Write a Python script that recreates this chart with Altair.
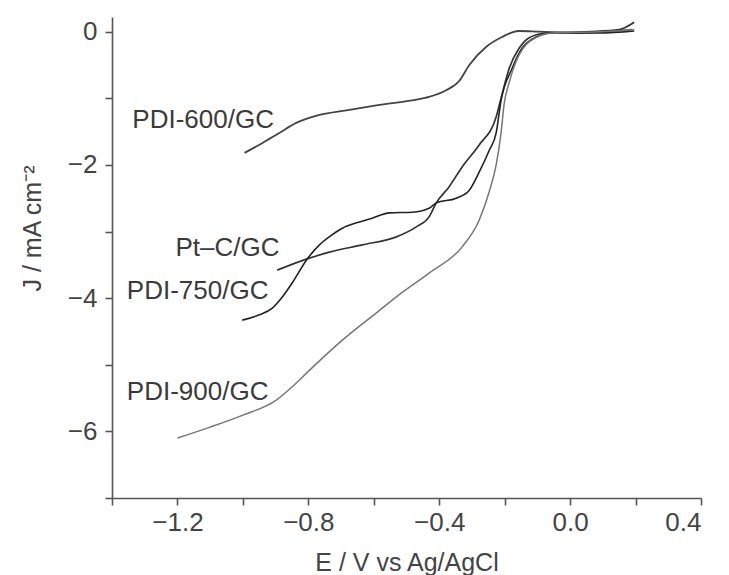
import altair as alt
import pandas as pd

# ---- data (E in V vs Ag/AgCl, J in mA cm^-2) ----
pdi600_E = [-0.995, -0.940, -0.889, -0.837, -0.766, -0.684, -0.583, -0.483, -0.431,
            -0.379, -0.339, -0.308, -0.257, -0.208, -0.157, -0.095, 0.027, 0.189]
pdi600_J = [-1.82, -1.67, -1.52, -1.37, -1.25, -1.18, -1.10, -1.03, -0.98,
            -0.88, -0.74, -0.50, -0.23, -0.08, 0.01, 0.00, -0.02, 0.03]

ptc_E = [-0.895, -0.797, -0.736, -0.635, -0.531, -0.470, -0.431, -0.409, -0.370,
         -0.330, -0.278, -0.226, -0.211, -0.186, -0.156, -0.125, -0.073, 0.058, 0.150, 0.196]
ptc_J = [-3.58, -3.40, -3.31, -3.20, -3.08, -2.93, -2.78, -2.57, -2.33,
         -2.03, -1.70, -1.28, -1.00, -0.55, -0.25, -0.09, -0.02, 0.00, 0.03, 0.14]

pdi750_E = [-1.002, -0.950, -0.910, -0.879, -0.849, -0.806, -0.766, -0.736, -0.696,
            -0.653, -0.605, -0.553, -0.482, -0.431, -0.409, -0.348, -0.308, -0.278,
            -0.247, -0.226, -0.211, -0.177, -0.147, -0.104, -0.055, 0.089, 0.196]
pdi750_J = [-4.33, -4.25, -4.15, -3.98, -3.77, -3.43, -3.20, -3.08, -2.95,
            -2.87, -2.80, -2.72, -2.71, -2.65, -2.57, -2.50, -2.38, -2.11,
            -1.78, -1.52, -1.03, -0.55, -0.25, -0.08, -0.02, -0.02, 0.01]

pdi900_E = [-1.200, -1.102, -1.002, -0.898, -0.849, -0.796, -0.696, -0.592, -0.531,
            -0.430, -0.330, -0.278, -0.247, -0.226, -0.211, -0.202, -0.186, -0.156,
            -0.104, -0.055, 0.089, 0.196]
pdi900_J = [-6.10, -5.94, -5.76, -5.53, -5.33, -5.08, -4.63, -4.22, -3.98,
            -3.62, -3.23, -2.83, -2.40, -2.00, -1.52, -1.10, -0.76, -0.35,
            -0.09, -0.02, 0.00, 0.03]

series_names = ["PDI-600/GC", "Pt\u2013C/GC", "PDI-750/GC", "PDI-900/GC"]
series_colors = ["#444444", "#333333", "#222222", "#777777"]
series_widths = [1.8, 1.5, 2.3, 1.4]

label_text = ["PDI-600/GC", "Pt\u2013C/GC", "PDI-750/GC", "PDI-900/GC"]
label_E = [-0.905, -0.888, -0.922, -0.922]
label_J = [-1.33, -3.24, -3.90, -5.41]

x_ticks = [-1.4, -1.2, -1.0, -0.8, -0.6, -0.4, -0.2, 0.0, 0.2, 0.4]
y_ticks = [-7, -6, -5, -4, -3, -2, -1, 0]

# ---- build tables ----
rows = []
for name, es, js in zip(series_names,
                        [pdi600_E, ptc_E, pdi750_E, pdi900_E],
                        [pdi600_J, ptc_J, pdi750_J, pdi900_J]):
    for i, (e, j) in enumerate(zip(es, js)):
        rows.append({"series": name, "E": e, "J": j, "i": i})
df = pd.DataFrame(rows)
labels = pd.DataFrame({"text": label_text, "E": label_E, "J": label_J})

FONT = "Liberation Sans"

x_scale = alt.Scale(domain=[-1.4, 0.4], nice=False, zero=False)
y_scale = alt.Scale(domain=[-7, 0.22], nice=False, zero=False)

x_axis = alt.Axis(
    values=x_ticks, format=".1f",
    labelExpr="abs(round(datum.value*10)) % 4 == 0 ? datum.label : ''",
    title="E / V vs Ag/AgCl", grid=False,
    tickSize=7, labelPadding=4, titlePadding=15,
)
y_axis = alt.Axis(
    values=y_ticks, format="d",
    labelExpr="datum.value % 2 == 0 ? datum.label : ''",
    title="J / mA cm\u207b\u00b2", grid=False,
    tickSize=7, labelPadding=8, titleY=211, titlePadding=22,
)

lines = alt.Chart(df).mark_line(interpolate="monotone").encode(
    x=alt.X("E:Q", scale=x_scale, axis=x_axis),
    y=alt.Y("J:Q", scale=y_scale, axis=y_axis),
    color=alt.Color("series:N", scale=alt.Scale(domain=series_names, range=series_colors), legend=None),
    strokeWidth=alt.StrokeWidth("series:N", scale=alt.Scale(domain=series_names, range=series_widths), legend=None),
    order="i:Q",
)

text = alt.Chart(labels).mark_text(
    align="right", baseline="middle", font=FONT, fontSize=26, color="#3a3a3a"
).encode(
    x=alt.X("E:Q", scale=x_scale),
    y=alt.Y("J:Q", scale=y_scale),
    text="text:N",
)

chart = alt.layer(lines, text).properties(
    width=589, height=481,
    autosize=alt.AutoSizeParams(type="none"),
    padding={"left": 104, "top": 9, "right": 20, "bottom": 77},
    background="white",
).configure_view(stroke=None).configure_axis(
    domainColor="#555555", domainWidth=1.6,
    tickColor="#555555", tickWidth=1.6,
    labelFont=FONT, labelFontSize=26, labelColor="#444444",
    titleFont=FONT, titleFontSize=25, titleColor="#444444", titleFontWeight="normal",
)

chart.save("out.html", embed_options={"renderer": "svg", "actions": False})
